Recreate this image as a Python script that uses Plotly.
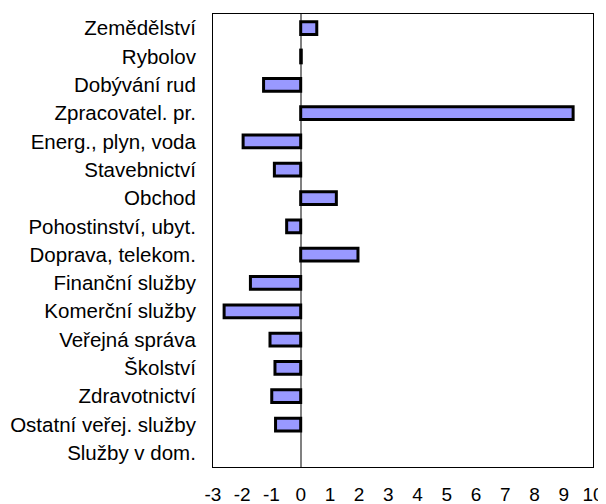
"""Horizontal bar chart: contributions by sector (Czech labels)."""

import plotly.graph_objects as go

SECTORS = [
    "Zemědělství",
    "Rybolov",
    "Dobývání rud",
    "Zpracovatel. pr.",
    "Energ., plyn, voda",
    "Stavebnictví",
    "Obchod",
    "Pohostinství, ubyt.",
    "Doprava, telekom.",
    "Finanční služby",
    "Komerční služby",
    "Veřejná správa",
    "Školství",
    "Zdravotnictví",
    "Ostatní veřej. služby",
    "Služby v dom.",
]
VALUES = [0.55, 0.02, -1.27, 9.32, -1.97, -0.9, 1.22, -0.48, 1.96,
          -1.72, -2.62, -1.05, -0.88, -0.99, -0.86, None]
X_TICKS = list(range(-3, 11))
X_TICK_LABELS = [str(v) for v in X_TICKS]

FONT = "Arial, 'Liberation Sans', sans-serif"

# the page body keeps its default 8px margin, so the figure is sized to fit
PAGE_PAD = 8


def build_chart():
    fig = go.Figure(
        go.Bar(
            x=VALUES,
            y=SECTORS,
            orientation="h",
            marker={"color": "#9999FF", "line": {"color": "black", "width": 3}},
            hoverinfo="x+y",
        )
    )
    fig.update_layout(
        width=606 - PAGE_PAD,
        height=504 - PAGE_PAD,
        paper_bgcolor="white",
        plot_bgcolor="white",
        bargap=0.55,
        showlegend=False,
        font={"family": FONT, "size": 20.5, "color": "black"},
        margin={"l": 213 - PAGE_PAD, "r": 13, "t": 14 - PAGE_PAD, "b": 37},
    )
    fig.update_xaxes(
        range=[-3, 10],
        tickvals=X_TICKS,
        ticktext=X_TICK_LABELS,
        tickfont={"size": 19},
        automargin=False,
        showgrid=False,
        ticks="",
        ticklabelstandoff=10,
        zeroline=True,
        zerolinecolor="#808080",
        zerolinewidth=1.5,
        showline=True,
        linecolor="black",
        linewidth=1,
        mirror=True,
    )
    fig.update_yaxes(
        autorange="reversed",
        automargin=False,
        showgrid=False,
        ticks="",
        ticklabelstandoff=12,
        showline=True,
        linecolor="black",
        linewidth=1,
        mirror=True,
    )
    return fig


fig = build_chart()
fig.write_html("out.html")
